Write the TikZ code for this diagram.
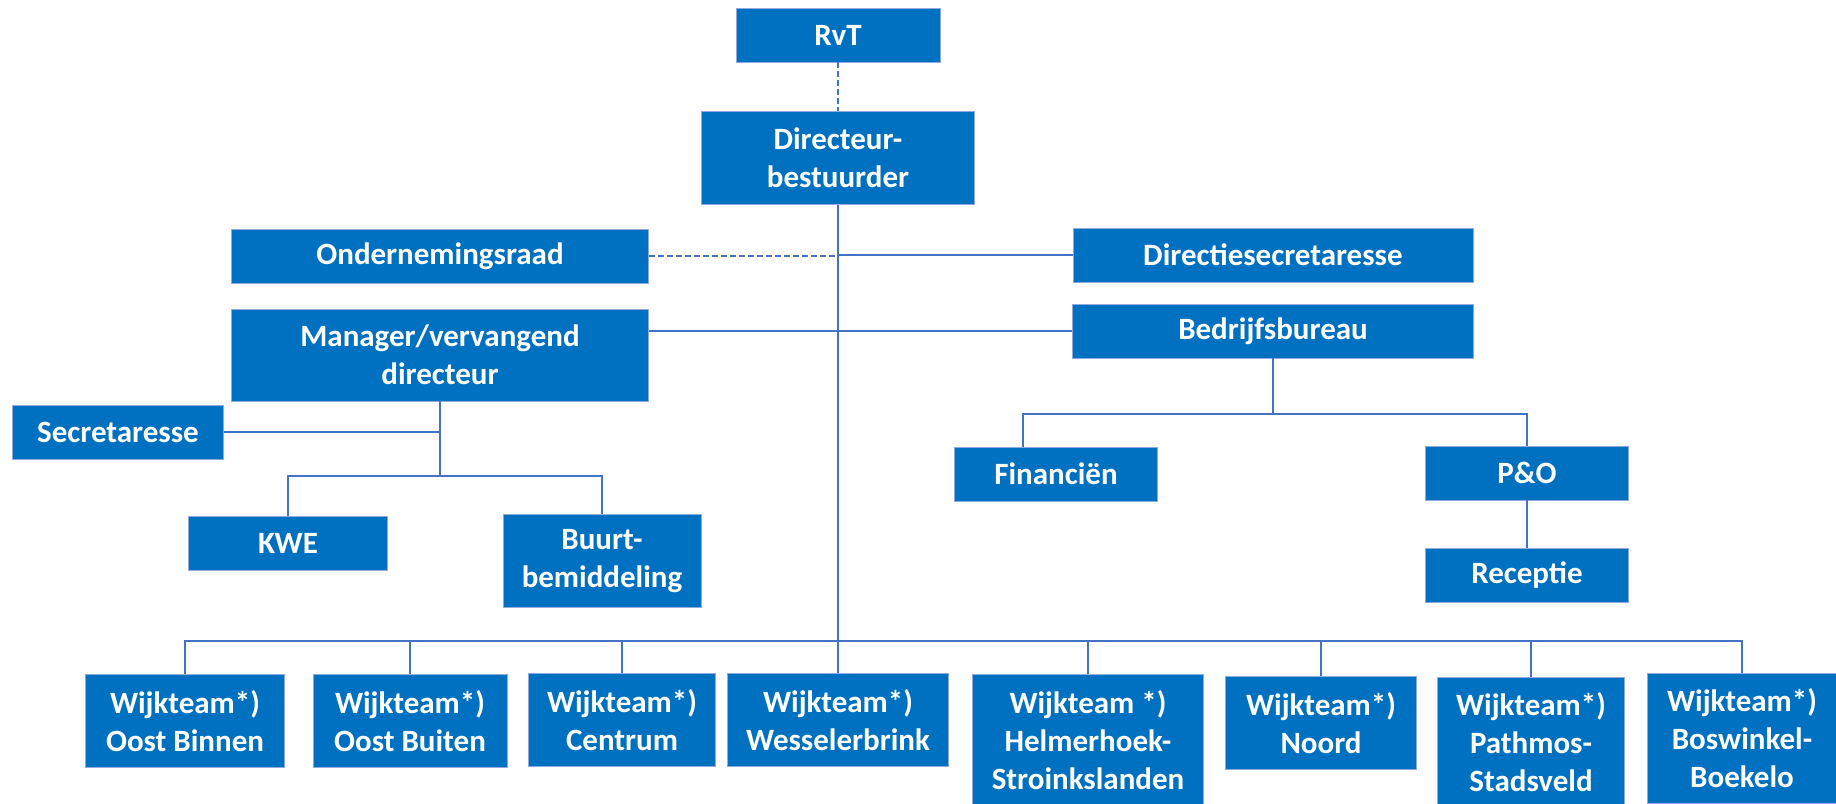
\documentclass[tikz,border=0pt]{standalone}
\usepackage{fontspec}
\setmainfont{Carlito}
\usepackage{tikz}

\definecolor{boxblue}{HTML}{0070C0}
\definecolor{lineblue}{HTML}{4472C4}

\begin{document}
\begin{tikzpicture}[x=1pt,y=-1pt,font=\fontsize{31}{38}\selectfont\bfseries]
\tikzstyle{unit} = [rectangle, fill=boxblue, draw=lineblue!60, line width=0.8pt, text=white, align=center, inner sep=0pt, minimum height=54pt]
\tikzstyle{tall} = [unit, minimum height=93pt]
\tikzstyle{link} = [lineblue, line width=1.6pt]
\tikzstyle{dlink} = [link, dash pattern=on 6pt off 3pt]

\useasboundingbox (0,0) rectangle (1836,803);

% top
\node (rvt) at (838,35) [unit, minimum width=204pt] {RvT};
\node (dir) at (838,158) [tall, minimum width=273pt] {Directeur-\\bestuurder};
\node (or) at (440,256) [unit, minimum width=417pt] {Ondernemingsraad};
\node (dsec) at (1273,255) [unit, minimum width=400pt] {Directiesecretaresse};
\node (man) at (440,355) [tall, minimum width=417pt, minimum height=92pt] {Manager/vervangend\\directeur};
\node (bb) at (1273,331) [unit, minimum width=401pt] {Bedrijfsbureau};

% staff
\node (sec) at (118,432) [unit, minimum width=211pt] {Secretaresse};
\node (kwe) at (288,543) [unit, minimum width=199pt] {KWE};
\node (buurt) at (602,561) [tall, minimum width=198pt] {Buurt-\\bemiddeling};
\node (fin) at (1056,474) [unit, minimum width=203pt] {Financiën};
\node (po) at (1527,473) [unit, minimum width=203pt] {P\&O};
\node (rec) at (1527,575) [unit, minimum width=203pt] {Receptie};

% wijkteams
\node (w1) at (185,721) [tall, minimum width=199pt] {Wijkteam*)\\Oost Binnen};
\node (w2) at (410,721) [tall, minimum width=194pt] {Wijkteam*)\\Oost Buiten};
\node (w3) at (622,720) [tall, minimum width=187pt] {Wijkteam*)\\Centrum};
\node (w4) at (838,720) [tall, minimum width=221pt] {Wijkteam*)\\Wesselerbrink};
\node (w5) at (1088,740) [tall, minimum width=231pt, minimum height=132pt] {Wijkteam *)\\Helmerhoek-\\Stroinkslanden};
\node (w6) at (1321,723) [tall, minimum width=191pt] {Wijkteam*)\\Noord};
\node (w7) at (1531,742) [tall, minimum width=187pt, minimum height=130pt] {Wijkteam*)\\Pathmos-\\Stadsveld};
\node (w8) at (1742,738) [tall, minimum width=190pt, minimum height=130pt] {Wijkteam*)\\Boswinkel-\\Boekelo};

\coordinate (bus) at (838,641);
\coordinate (mbus) at (440,476);
\coordinate (bbus) at (1273,414);

\draw[dlink] (rvt) -- (dir);
\draw[link] (dir) -- (w4.north);
\draw[dlink] (or.east) -- (or.east -| dir.south);
\draw[link] (dsec.west) -- (dsec.west -| dir.south);
\draw[link] (bb.west -| man.east) -- (bb.west);

\draw[link] (sec.east) -- (sec.east -| man.south);
\draw[link] (man) -- (mbus);
\draw[link] (kwe.north) |- (mbus) -| (buurt.north);

\draw[link] (bb) -- (bbus);
\draw[link] ([xshift=-33pt]fin.north) |- (bbus) -| (po.north);
\draw[link] (po) -- (rec);

\draw[link] (w1.north) |- (bus) -| (w8.north);
\foreach \w in {w2,w3,w5,w6,w7}
  \draw[link] (\w.north) -- (\w.north |- bus);

\end{tikzpicture}
\end{document}
